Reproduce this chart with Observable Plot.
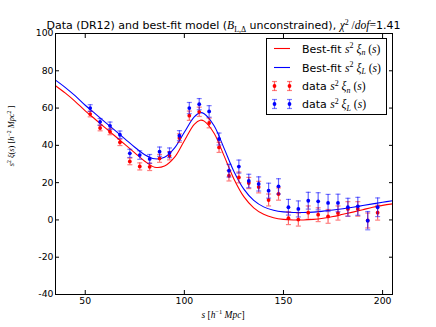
<!DOCTYPE html>
<html>
<head>
<meta charset="utf-8">
<script src="https://cdn.jsdelivr.net/npm/d3@7"></script>
<script src="https://cdn.jsdelivr.net/npm/@observablehq/plot@0.6"></script>
<style>
  html, body { margin: 0; padding: 0; background: #fff; }
</style>
</head>
<body>
<div id="chart"></div>
<script>
// ---- data ----
const sBins = [52.5, 57.5, 62.5, 67.5, 72.5, 77.5, 82.5, 87.5, 92.5, 97.5,
               102.5, 107.5, 112.5, 117.5, 122.5, 127.5, 132.5, 137.5, 142.5, 147.5,
               152.5, 157.5, 162.5, 167.5, 172.5, 177.5, 182.5, 187.5, 192.5, 197.5];
const dataN = [56.8, 49.3, 47.3, 41.6, 31.4, 28.7, 28.5, 33.0, 34.4, 43.9,
               55.9, 58.0, 52.0, 38.9, 23.7, 22.8, 19.8, 17.6, 10.7, 13.9,
               0.9, 0.2, 3.9, 2.8, 1.9, 3.7, 5.9, 5.9, -0.3, 3.9];
const errN  = [1.5, 1.5, 1.6, 1.7, 1.8, 1.9, 2.0, 2.1, 2.2, 2.3,
               2.5, 2.5, 2.6, 2.7, 2.8, 2.9, 3.0, 3.1, 3.2, 3.3,
               3.4, 3.5, 3.6, 3.7, 3.7, 3.8, 3.9, 3.9, 4.0, 4.0];
const dataL = [60.0, 52.6, 50.5, 45.7, 35.7, 34.8, 32.7, 36.6, 36.0, 45.2,
               60.0, 62.1, 58.2, 43.4, 26.4, 28.6, 20.9, 19.3, 15.7, 18.0,
               6.8, 5.9, 10.3, 10.0, 9.1, 9.1, 6.8, 7.3, -0.4, 6.8];
const errL  = [1.8, 1.8, 2.0, 2.0, 2.2, 2.3, 2.4, 2.5, 2.6, 2.7,
               3.0, 3.0, 3.1, 3.2, 3.4, 3.5, 3.6, 3.8, 4.0, 4.1,
               4.2, 4.3, 4.5, 4.6, 4.6, 4.7, 4.8, 4.8, 4.9, 5.0];

// best-fit model curves (read at knots)
const sModel = [35, 40, 45, 50, 55, 60, 65, 70, 75, 80, 85, 90, 95, 100, 105, 108, 110,
                115, 120, 125, 130, 135, 140, 145, 150, 155, 160, 165, 170, 175, 180,
                185, 190, 195, 200, 205];
const modelL = [75, 71, 66.5, 61.5, 57, 52.5, 48, 43.5, 39, 35, 32.8, 33.6, 38.5, 47, 55.3, 57.5, 57,
                50.5, 38.5, 26, 16.5, 10.5, 7, 5.2, 4.3, 4, 4, 4.2, 4.7, 5.3, 6,
                6.8, 7.7, 8.6, 9.5, 10.3];
const modelN = [72, 68, 63.5, 58.5, 54, 49.5, 45, 40.5, 36, 31.5, 28.3, 28.9, 33.5, 42.5, 51.3, 53.5, 53,
                46.5, 34.5, 22, 12.5, 6.5, 3, 1.2, 0.3, 0, 0, 0.3, 0.9, 1.8, 3,
                4.2, 5.5, 6.8, 7.8, 8.6];

const xTicks = [50, 100, 150, 200];
const yTicks = [-40, -20, 0, 20, 40, 60, 80, 100];

const RED = "#ff0000", BLUE = "#0000ff";

const pts = sBins.map((s, i) => ({s, n: dataN[i], en: errN[i], l: dataL[i], el: errL[i]}));
const curveN = sModel.map((s, i) => ({s, v: modelN[i]}));
const curveL = sModel.map((s, i) => ({s, v: modelL[i]}));

const capSymbol = {
  draw(ctx) { ctx.moveTo(-2.5, 0); ctx.lineTo(2.5, 0); }
};

function errMarks(key, errKey, color) {
  return [
    Plot.ruleX(pts, {x: "s", y1: d => d[key] - d[errKey], y2: d => d[key] + d[errKey], stroke: color, strokeOpacity: 0.6, strokeWidth: 1.2}),
    Plot.dot(pts, {x: "s", y: d => d[key] - d[errKey], symbol: capSymbol, stroke: color, strokeOpacity: 0.5, strokeWidth: 1.2, fill: "none", r: 3}),
    Plot.dot(pts, {x: "s", y: d => d[key] + d[errKey], symbol: capSymbol, stroke: color, strokeOpacity: 0.5, strokeWidth: 1.2, fill: "none", r: 3}),
    Plot.dot(pts, {x: "s", y: key, r: 1.9, fill: color, stroke: "none"})
  ];
}

const plot = Plot.plot({
  width: 436,
  height: 327,
  marginLeft: 55,
  marginRight: 44,
  marginTop: 33,
  marginBottom: 33,
  style: {fontFamily: "DejaVu Sans", fontSize: "9.3px", background: "#fff", color: "#000"},
  x: {domain: [35, 205]},
  y: {domain: [-40, 100]},
  marks: [
    Plot.line(curveN, {x: "s", y: "v", stroke: RED, strokeWidth: 1.1, curve: "catmull-rom"}),
    Plot.line(curveL, {x: "s", y: "v", stroke: BLUE, strokeWidth: 1.1, curve: "catmull-rom"}),
    ...errMarks("n", "en", RED),
    ...errMarks("l", "el", BLUE),
    Plot.frame({stroke: "#000", strokeWidth: 1}),
    Plot.axisX(xTicks, {anchor: "bottom", tickSize: 0, tickPadding: 3, label: null, tickFormat: d => String(d)}),
    Plot.axisX(xTicks, {anchor: "bottom", tickSize: -4, fill: "none", label: null}),
    Plot.axisX(xTicks, {anchor: "top", tickSize: -4, fill: "none", label: null}),
    Plot.axisY(yTicks, {anchor: "left", tickSize: 0, tickPadding: 2, label: null, tickFormat: d => String(d)}),
    Plot.axisY(yTicks, {anchor: "left", tickSize: -4, fill: "none", label: null}),
    Plot.axisY(yTicks, {anchor: "right", tickSize: -4, fill: "none", label: null})
  ]
});

document.getElementById("chart").appendChild(plot);

// ---- text with math parts ----
const SANS = "DejaVu Sans";
const MATH = "Liberation Serif";
function richText(parent, x, y, parts, opts = {}) {
  const size = opts.size || 11;
  const t = parent.append("text")
    .attr("x", x).attr("y", y)
    .attr("font-family", SANS)
    .attr("font-size", size)
    .attr("fill", "#000")
    .attr("text-anchor", opts.anchor || "start");
  if (opts.rotate) t.attr("transform", `rotate(${opts.rotate},${x},${y})`);
  let shift = 0;
  for (const [txt, kind] of parts) {
    const ts = t.append("tspan").text(txt);
    let target = 0;
    if (kind.includes("sup")) target = -0.4 * size;
    if (kind.includes("sub")) target = 0.25 * size;
    ts.attr("dy", target - shift);
    shift = target;
    if (kind.includes("i")) ts.attr("font-family", MATH).attr("font-style", "italic");
    if (kind.includes("r")) ts.attr("font-family", MATH);
    let fs = size;
    if (kind.includes("m")) fs = size * 1.05;
    if (kind.includes("sup") || kind.includes("sub")) fs = size * 0.72;
    ts.attr("font-size", fs);
  }
  return t;
}

const svg = d3.select(plot);
const g = svg.append("g");

// title
richText(g, 223.5, 29, [
  ["Data (DR12) and best-fit model (", "n"],
  ["B", "i m"],
  ["L,Δ", "r sub"],
  [" unconstrained), ", "n"],
  ["χ", "i m"],
  ["2", "r sup"],
  [" /", "r m"],
  ["dof", "i m"],
  ["=", "r m"],
  ["1.41", "n"]
], {anchor: "middle", size: 11});

// x label
richText(g, 223, 318, [
  ["s", "i m"], [" [", "r m"], ["h", "i m"], ["−1", "r sup"], [" Mpc", "i m"], ["]", "r m"]
], {anchor: "middle", size: 9});

// y label
richText(g, 14, 136, [
  ["s", "i m"], ["2", "r sup"], [" ξ", "i m"], ["(", "r m"], ["s", "i m"], [")", "r m"],
  [" [", "r m"], ["h", "i m"], ["−2", "r sup"], [" Mpc", "i m"], ["2", "r sup"], [" ]", "r m"]
], {anchor: "middle", size: 8, rotate: -90});

// legend
const lg = g.append("g");
lg.append("rect").attr("x", 266.5).attr("y", 38.5).attr("width", 120).attr("height", 76)
  .attr("fill", "#fff").attr("stroke", "#000").attr("stroke-width", 1);
const rows = [48.5, 67.5, 86, 104];
const legendItems = [
  {type: "line", color: RED, label: "Best-fit ", sub: "n"},
  {type: "line", color: BLUE, label: "Best-fit ", sub: "L"},
  {type: "err", color: RED, label: "data ", sub: "n"},
  {type: "err", color: BLUE, label: "data ", sub: "L"}
];
legendItems.forEach((it, i) => {
  const y = rows[i];
  if (it.type === "line") {
    lg.append("line").attr("x1", 274).attr("x2", 290).attr("y1", y).attr("y2", y)
      .attr("stroke", it.color).attr("stroke-width", 1.1);
  } else {
    for (const cx of [274.5, 289.5]) {
      lg.append("line").attr("x1", cx).attr("x2", cx).attr("y1", y - 4.5).attr("y2", y + 4.5)
        .attr("stroke", it.color).attr("stroke-opacity", 0.6).attr("stroke-width", 1.2);
      for (const cy of [y - 4.5, y + 4.5]) {
        lg.append("line").attr("x1", cx - 2.5).attr("x2", cx + 2.5).attr("y1", cy).attr("y2", cy)
          .attr("stroke", it.color).attr("stroke-opacity", 0.5).attr("stroke-width", 1.2);
      }
      lg.append("circle").attr("cx", cx).attr("cy", y).attr("r", 1.9).attr("fill", it.color);
    }
  }
  richText(lg, 302, y + 4, [
    [it.label, "n"], ["s", "i m"], ["2", "r sup"], [" ξ", "i m"], [it.sub, "i sub"],
    [" (", "r m"], ["s", "i m"], [")", "r m"]
  ], {size: 11});
});
</script>
</body>
</html>
